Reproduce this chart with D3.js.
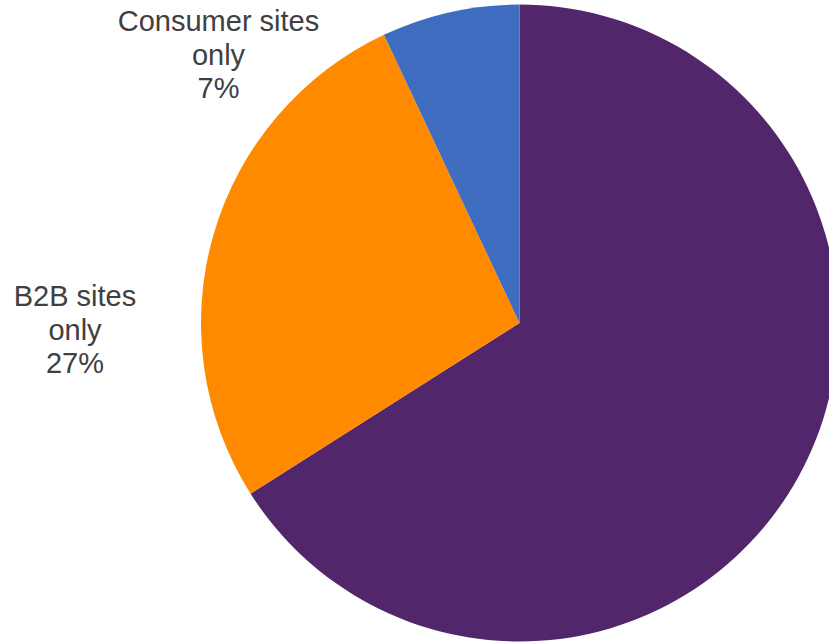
<!DOCTYPE html>
<html>
<head>
<meta charset="utf-8">
<script src="https://cdn.jsdelivr.net/npm/d3@7"></script>
<style>
  html, body { margin: 0; padding: 0; background: #ffffff; overflow: hidden; }
  svg { display: block; }
</style>
</head>
<body>
<svg id="chart" width="829" height="644"></svg>
<script>
// Share of sites by type
const categories = ["Both site types", "B2B sites only", "Consumer sites only"];
const values = [66, 27, 7];
const colors = ["#52266a", "#ff8a00", "#3e6dbf"];
const labelLines = [null, ["B2B sites", "only"], ["Consumer sites", "only"]];

const width = 829, height = 644;
const cx = 519.5, cy = 323, radius = 318.5;

const svg = d3.select("#chart");
const g = svg.append("g").attr("transform", `translate(${cx},${cy})`);

const pie = d3.pie().sort(null).value(d => d.value);
const arc = d3.arc().innerRadius(0).outerRadius(radius);

const data = categories.map((c, i) => ({ category: c, value: values[i], color: colors[i], lines: labelLines[i] }));
const arcs = pie(data);

g.selectAll("path.slice")
  .data(arcs)
  .join("path")
  .attr("class", "slice")
  .attr("d", arc)
  .attr("fill", d => d.data.color);

// Label placement beside the pie: horizontal centre and first baseline, relative to the pie centre
const labelOffset = {
  "B2B sites only": [-444.5, -17],
  "Consumer sites only": [-301, -292]
};
const fontSize = 29, lineGap = 33.7;

const labels = svg.append("g")
  .attr("font-family", "Arial, 'Liberation Sans', sans-serif")
  .attr("font-size", fontSize)
  .attr("fill", "#404040")
  .attr("text-anchor", "middle");

arcs.filter(d => d.data.lines).forEach(d => {
  const [ox, oy] = labelOffset[d.data.category];
  const pct = Math.round((d.endAngle - d.startAngle) / (2 * Math.PI) * 100) + "%";
  const lines = d.data.lines.concat([pct]);
  const t = labels.append("text");
  lines.forEach((ln, i) => {
    t.append("tspan")
      .attr("x", cx + ox)
      .attr("y", cy + oy + i * lineGap)
      .text(ln);
  });
});
</script>
</body>
</html>
